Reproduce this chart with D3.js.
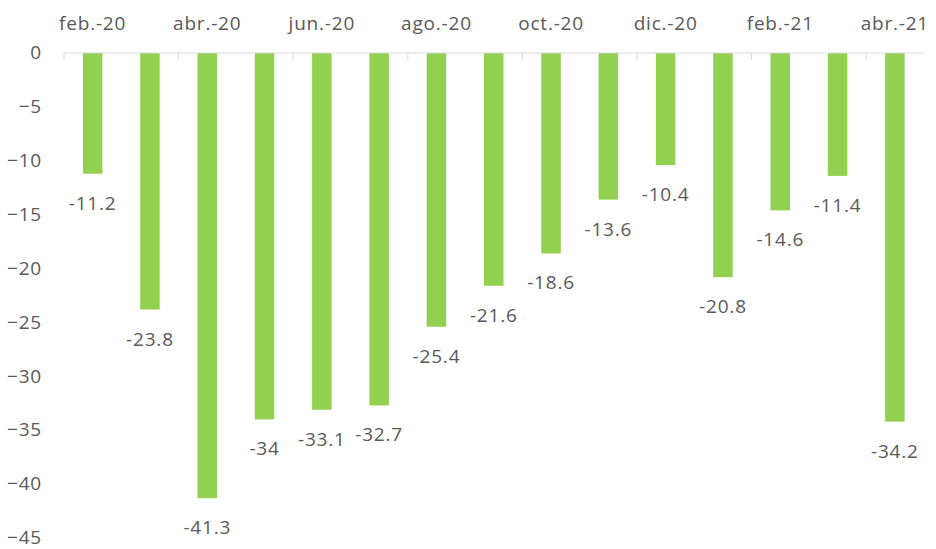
<!DOCTYPE html>
<html>
<head>
<meta charset="utf-8">
<script src="https://cdn.jsdelivr.net/npm/d3@7"></script>
<style>
  body { margin: 0; background: #fff; }
  text { font-family: "Open Sans", sans-serif; fill: #595959; letter-spacing: 0.8px; }
</style>
</head>
<body>
<svg id="chart"></svg>
<script>
const months = ['feb.-20', 'mar.-20', 'abr.-20', 'may.-20', 'jun.-20', 'jul.-20', 'ago.-20', 'sept.-20',
  'oct.-20', 'nov.-20', 'dic.-20', 'ene.-21', 'feb.-21', 'mar.-21', 'abr.-21'];
const values = [-11.2, -23.8, -41.3, -34, -33.1, -32.7, -25.4, -21.6, -18.6, -13.6, -10.4, -20.8, -14.6, -11.4, -34.2];
const yTicks = [0, -5, -10, -15, -20, -25, -30, -35, -40, -45];

const width = 936;
const height = 549;
const plotLeft = 64, plotRight = 923.5, plotTop = 53, plotBottom = 538;
const fontSize = 19;

const svg = d3.select('#chart')
  .attr('width', width)
  .attr('height', height);

const x = d3.scaleBand()
  .domain(months)
  .range([plotLeft, plotRight])
  .paddingInner(0.66)
  .paddingOuter(0.33);

const y = d3.scaleLinear()
  .domain([0, -45])
  .range([plotTop, plotBottom]);

// bars
svg.selectAll('rect')
  .data(values)
  .enter()
  .append('rect')
  .attr('x', (_, i) => x(months[i]))
  .attr('y', y(0))
  .attr('width', x.bandwidth())
  .attr('height', d => y(d) - y(0))
  .attr('fill', '#92d050');

// value labels under each bar
svg.selectAll('text.val')
  .data(values)
  .enter()
  .append('text')
  .classed('val', true)
  .text(d => d)
  .attr('x', (_, i) => x(months[i]) + x.bandwidth() / 2)
  .attr('y', d => y(d) + 36)
  .attr('text-anchor', 'middle')
  .attr('font-size', fontSize);

// y axis labels (no line)
const yAxis = d3.axisLeft(y)
  .tickValues(yTicks)
  .tickSize(0)
  .tickPadding(0);

svg.append('g')
  .attr('transform', 'translate(42,0)')
  .call(yAxis)
  .call(g => g.select('.domain').remove())
  .call(g => g.selectAll('text').attr('font-size', fontSize).attr('fill', '#595959')
    .attr('dy', '0.3em')
    .style('font-family', '"Open Sans", sans-serif'));

// zero line with boundary ticks, month labels on top
const step = x.step();
const zero = svg.append('g');
zero.append('line')
  .attr('x1', plotLeft).attr('x2', plotRight)
  .attr('y1', y(0)).attr('y2', y(0))
  .attr('stroke', '#d9d9d9').attr('stroke-width', 1);

zero.selectAll('line.tick')
  .data(d3.range(0, months.length, 2))
  .enter()
  .append('line')
  .classed('tick', true)
  .attr('x1', i => plotLeft + i * step).attr('x2', i => plotLeft + i * step)
  .attr('y1', y(0)).attr('y2', y(0) + 7)
  .attr('stroke', '#d9d9d9');

svg.selectAll('text.month')
  .data(months.filter((_, i) => i % 2 === 0))
  .enter()
  .append('text')
  .classed('month', true)
  .text(d => d)
  .attr('x', d => x(d) + x.bandwidth() / 2)
  .attr('y', 30)
  .attr('text-anchor', 'middle')
  .attr('font-size', fontSize);
</script>
</body>
</html>
